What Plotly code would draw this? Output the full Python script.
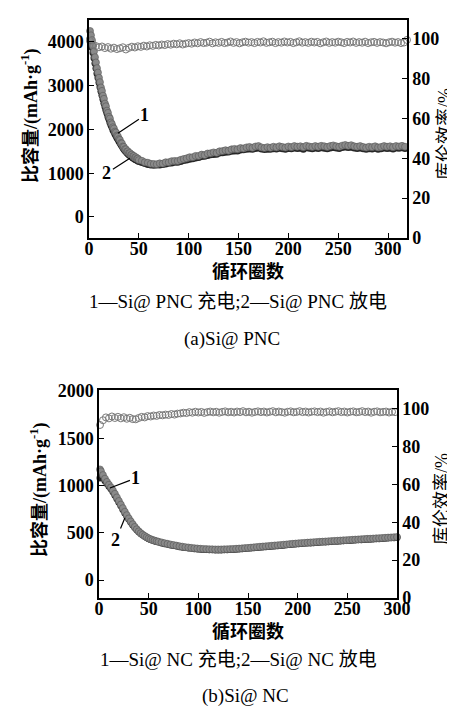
import plotly.graph_objects as go

W, H = 455, 707

# ---------------- (a) Si@PNC ----------------
A_CYC = [1,2,3,4,5,6,7,8,9,10,11,12,13,14,15,16,17,18,19,20,21,22,23,24,25,26,27,28,29,30,
         31,32,33,34,35,36,37,38,39,40,41,42,43,44,45,46,47,48,49,50,
         53,56,59,62,65,68,71,74,77,80,83,86,89,92,95,98,101,104,107,110,113,116,119,122,125,128,
         131,134,137,140,143,146,149,152,155,158,161,164,167,170,173,176,179,182,185,188,191,194,
         197,200,203,206,209,212,215,218,221,224,227,230,233,236,239,242,245,248,251,254,257,260,
         263,266,269,272,275,278,281,284,287,290,293,296,299,302,305,308,311,314,317,320]
A_CHARGE = [4250,4150,4040,3900,3780,3650,3530,3400,3300,3180,
            3080,2960,2880,2770,2700,2590,2530,2430,2380,2290,
            2250,2160,2120,2050,2020,1950,1930,1860,1840,1780,
            1760,1690,1680,1610,1600,1550,1545,1495,1500,1455,
            1460,1415,1425,1385,1395,1355,1365,1330,1335,1300,
            1285,1250,1240,1215,1210,1205,1225,1220,1250,1250,
            1275,1280,1280,1305,1325,1340,1365,1365,1395,1395,
            1425,1415,1450,1455,1475,1465,1500,1505,1525,1515,
            1545,1555,1545,1575,1565,1590,1600,1580,1610,1620,
            1590,1575,1595,1580,1605,1590,1615,1600,1585,1610,
            1595,1620,1605,1615,1595,1625,1610,1600,1620,1605,
            1625,1615,1600,1620,1635,1615,1605,1630,1645,1625,
            1640,1615,1605,1620,1600,1585,1605,1595,1615,1590,
            1600,1620,1605,1615,1595,1620,1610,1625,1605,1615]
A_DISCHARGE = [4080,3990,3870,3750,3630,3510,3400,3280,3180,3070,
               2970,2870,2780,2690,2600,2520,2440,2370,2290,2230,
               2160,2100,2050,1990,1950,1895,1855,1810,1775,1730,
               1695,1655,1620,1580,1550,1520,1495,1465,1445,1420,
               1405,1385,1370,1350,1340,1320,1310,1295,1285,1270,
               1245,1220,1200,1185,1180,1185,1190,1200,1210,1225,
               1235,1250,1250,1270,1290,1300,1320,1330,1350,1360,
               1380,1385,1405,1420,1430,1435,1460,1465,1480,1485,
               1500,1510,1510,1530,1535,1545,1555,1545,1565,1575,
               1555,1540,1550,1545,1560,1555,1570,1560,1550,1565,
               1560,1575,1565,1570,1545,1580,1570,1560,1575,1565,
               1580,1570,1560,1575,1590,1575,1565,1585,1600,1585,
               1595,1575,1565,1575,1560,1550,1560,1555,1570,1550,
               1560,1575,1565,1570,1555,1575,1570,1580,1565,1570]
A_CE_CYC = [1,4,7,10,13,16,19,22,25,28,31,34,37,40,43,46,49,52,55,58,61,64,67,70,73,76,79,82,85,88,
            91,94,97,100,103,106,109,112,115,118,121,124,127,130,133,136,139,142,145,148,151,154,
            157,160,163,166,169,172,175,178,181,184,187,190,193,196,199,202,205,208,211,214,217,220,
            223,226,229,232,235,238,241,244,247,250,253,256,259,262,265,268,271,274,277,280,283,286,
            289,292,295,298,301,304,307,310,313,316,319]
A_CE = [99.0,97.2,96.4,95.8,96.2,95.4,95.9,95.1,95.6,94.9,95.3,95.8,94.7,95.5,
        96.1,95.7,96.3,96.0,96.6,96.2,96.8,96.5,97.0,96.7,97.2,96.9,97.4,97.1,97.6,97.3,97.8,97.2,97.6,97.9,
        97.6,98.2,97.8,98.4,97.9,98.1,98.6,97.8,98.3,98.0,
        98.5,97.9,98.2,98.7,98.0,98.4,97.8,98.3,98.6,98.1,
        98.4,97.9,98.5,98.2,98.8,98.0,98.3,98.6,97.9,98.4,
        98.1,98.7,98.2,98.5,97.9,98.3,98.8,98.1,98.4,98.0,
        98.6,98.2,98.5,97.8,98.3,98.7,98.0,98.4,98.1,98.6,
        98.3,97.9,98.5,98.2,98.7,98.0,98.4,98.1,98.6,97.9,
        98.3,98.5,98.0,98.4,98.2,97.8,98.3,98.6,98.1,98.4,
        97.9,98.2,99.5]

# ---------------- (b) Si@NC ----------------
B_CYC = [1,2,4,6,8,10,12,14,16,18,20,22,24,26,28,30,32,34,36,38,40,42,44,46,48,50,52,54,56,58,60,
         63,66,69,72,75,78,81,84,87,90,93,96,99,102,105,108,111,114,117,120,123,126,129,132,135,138,
         141,144,147,150,153,156,159,162,165,168,171,174,177,180,183,186,189,192,195,198,201,204,207,
         210,213,216,219,222,225,228,231,234,237,240,243,246,249,252,255,258,261,264,267,270,273,276,
         279,282,285,288,291,294,297,300]
B_CHARGE = [1170,1150,1110,1072,1038,1008,980,948,912,874,836,798,760,722,686,652,620,590,562,537,
            515,496,480,466,453,441,432,424,417,411,405,
            398,390,383,376,370,364,358,353,348,344,
            340,337,334,331,329,327,326,325,324,324,
            324,325,326,327,329,331,333,335,338,340,
            343,346,349,352,355,357,360,363,366,368,
            371,374,377,380,383,386,389,391,393,396,
            398,400,402,404,406,408,410,412,414,416,
            418,420,422,424,426,428,430,432,434,436,
            437,439,441,443,445,447,449,451,453,455]
B_DISCHARGE = [1080,1095,1078,1050,1020,992,965,933,898,861,823,785,747,710,675,642,611,582,555,531,
               510,492,476,462,450,438,428,420,413,407,401,
               393,385,378,371,365,359,353,348,343,339,
               335,332,329,326,324,322,321,320,319,319,
               319,320,321,322,324,326,328,330,333,335,
               338,341,344,347,350,352,355,358,361,363,
               366,369,372,375,378,381,384,386,388,391,
               393,395,397,399,401,403,405,407,409,411,
               413,415,417,419,421,423,425,427,429,431,
               432,434,436,438,440,442,444,446,448,450]
B_CE_CYC = [1,4,7,10,13,16,19,22,25,28,31,34,37,40,43,46,49,52,55,58,61,64,67,70,73,76,79,82,85,88,
            91,94,97,100,103,106,109,112,115,118,121,124,127,130,133,136,139,142,145,148,151,154,
            157,160,163,166,169,172,175,178,181,184,187,190,193,196,199,202,205,208,211,214,217,220,
            223,226,229,232,235,238,241,244,247,250,253,256,259,262,265,268,271,274,277,280,283,286,
            289,292,295,298]
B_CE = [91.5,94.0,95.5,95.0,96.0,95.2,95.8,95.0,95.6,94.8,95.3,94.6,94.5,95.2,95.8,95.5,96.2,96.0,
        96.5,96.3,96.8,96.6,97.0,96.8,97.3,97.0,97.5,
        97.6,98.0,97.8,98.3,98.0,98.5,98.1,98.4,97.9,98.3,
        98.6,98.2,98.5,98.0,98.4,98.7,98.2,98.5,98.1,98.6,
        98.3,98.8,98.2,98.5,98.0,98.4,98.7,98.3,98.6,98.1,
        98.5,98.8,98.2,98.6,98.3,98.0,98.5,98.7,98.2,98.4,
        98.8,98.3,98.6,98.1,98.5,98.7,98.3,98.6,98.0,98.4,
        98.7,98.2,98.5,98.8,98.3,98.6,98.1,98.5,98.7,98.2,
        98.4,98.8,98.3,98.6,98.0,98.5,98.7,98.2,98.4,98.6,
        98.1,98.5,98.3]

X_TICKS = [0, 50, 100, 150, 200, 250, 300]
A_Y_TICKS = [0, 1000, 2000, 3000, 4000]
B_Y_TICKS = [0, 500, 1000, 1500, 2000]
CE_TICKS = [0, 20, 40, 60, 80, 100]

SERIF = "Liberation Serif, Times New Roman, serif"
TICKFONT = dict(family=SERIF, size=18, color="black", weight="bold")
CN = "Liberation Serif, Noto Sans CJK SC"

fig = go.Figure()

def add_set(cyc, dis, chg, ce_cyc, ce, xa, ya, ya2):
    fig.add_trace(go.Scatter(x=cyc, y=dis, mode="markers", xaxis=xa, yaxis=ya,
                             marker=dict(size=7, color="#262626", line=dict(width=0)),
                             showlegend=False, cliponaxis=False))
    fig.add_trace(go.Scatter(x=cyc, y=chg, mode="markers", xaxis=xa, yaxis=ya,
                             marker=dict(size=7, color="#8a8a8a", line=dict(width=0.6, color="#555555")),
                             showlegend=False, cliponaxis=False))
    fig.add_trace(go.Scatter(x=ce_cyc, y=ce, mode="markers", xaxis=xa, yaxis=ya2,
                             marker=dict(size=7, symbol="circle-open", color="#7a7a7a", line=dict(width=1)),
                             showlegend=False, cliponaxis=False))

add_set(A_CYC, A_DISCHARGE, A_CHARGE, A_CE_CYC, A_CE, "x", "y", "y2")
add_set(B_CYC, B_DISCHARGE, B_CHARGE, B_CE_CYC, B_CE, "x2", "y3", "y4")

def px(x): return x / W
def py(y): return 1 - y / H

axis_common = dict(showgrid=False, zeroline=False, showline=True, linecolor="black", linewidth=1.5,
                   ticks="inside", ticklen=5, tickwidth=1.2, tickcolor="black", tickfont=TICKFONT,
                   automargin=False)

fig.update_layout(
    template="none",
    width=W, height=H, margin=dict(l=0, r=0, t=0, b=0, pad=0),
    paper_bgcolor="white", plot_bgcolor="white",
    xaxis=dict(domain=[px(81), px(399)], range=[0, 319], tickvals=X_TICKS, anchor="y", mirror=True,
               ticklabelstandoff=-6, **axis_common),
    yaxis=dict(domain=[py(230), py(12)], range=[-480, 4500], tickvals=A_Y_TICKS, anchor="x", **axis_common),
    yaxis2=dict(domain=[py(230), py(12)], range=[0, 109.5], tickvals=CE_TICKS, overlaying="y", side="right", anchor="x", **axis_common),
    xaxis2=dict(domain=[px(91), px(389)], range=[0, 300], tickvals=X_TICKS, anchor="y3", mirror=True,
                ticklabelstandoff=-6, **axis_common),
    yaxis3=dict(domain=[py(590), py(382)], range=[-190, 2010], tickvals=B_Y_TICKS, anchor="x2", **axis_common),
    yaxis4=dict(domain=[py(590), py(382)], range=[0, 110], tickvals=CE_TICKS, overlaying="y3", side="right", anchor="x2", **axis_common),
)

def txt(x, y, s, size, bold=False, angle=0, family=CN):
    fig.add_annotation(x=px(x), y=py(y), xref="paper", yref="paper", text=s, showarrow=False,
                       textangle=angle, xanchor="center", yanchor="middle",
                       font=dict(family=family, size=size, color="black", weight="bold" if bold else "normal"))

YLAB = "比容量/(mAh·g<sup>-1</sup>)"
CELAB = "库伦效率/%"
XLAB = "循环圈数"

txt(22, 108, YLAB, 18, bold=True, angle=-90)
txt(437, 126, CELAB, 18, angle=-90)
txt(240, 264, XLAB, 18, bold=True)
txt(230, 293, "1—Si@ PNC 充电;2—Si@ PNC 放电", 19)
txt(224, 331, "(a)Si@ PNC", 19)

txt(31, 482, YLAB, 18, bold=True, angle=-90)
txt(434, 491, CELAB, 18, angle=-90)
txt(240, 624, XLAB, 18, bold=True)
txt(230, 651, "1—Si@ NC 充电;2—Si@ NC 放电", 19)
txt(237, 688, "(b)Si@ NC", 19)

# curve labels with leader lines
def lab(xa, ya, x, y, s, ax, ay):
    fig.add_annotation(x=x, y=y, xref=xa, yref=ya, text=s, showarrow=True, arrowhead=0,
                       arrowwidth=1.2, arrowcolor="black", ax=ax, ay=ay,
                       font=dict(family=SERIF, size=18, color="black", weight="bold"))

lab("x", "y", 29, 1913, "1", 27, -18)
lab("x", "y", 41, 1344, "2", -23, 15)
lab("x2", "y3", 11, 973, "1", 26, -10)
lab("x2", "y3", 26, 656, "2", -9, 22)

fig.write_html("out.html")
